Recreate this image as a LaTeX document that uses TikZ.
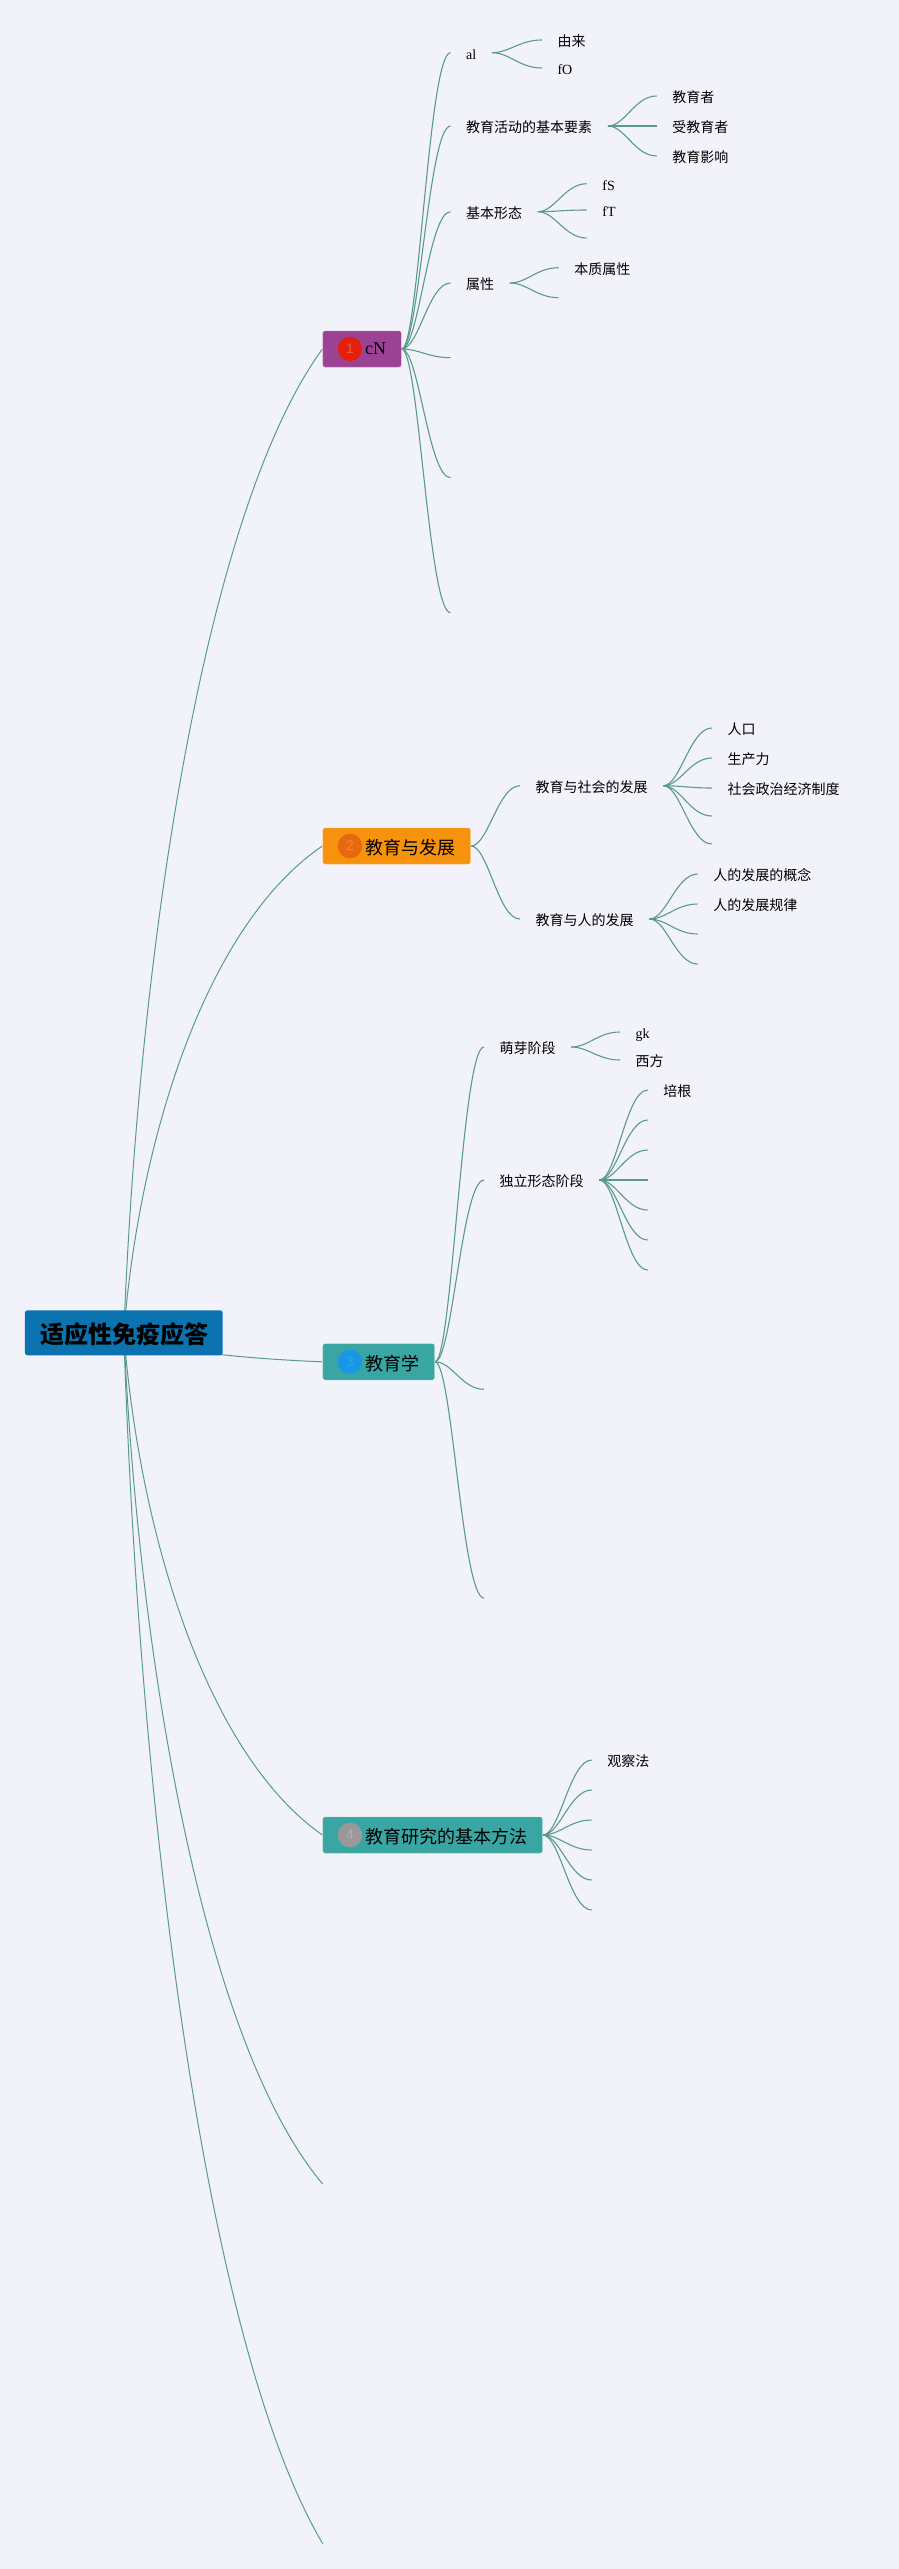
\documentclass[tikz,border=0pt]{standalone}
\usepackage{fontspec}
\setmainfont{Noto Sans CJK SC}
\newfontfamily\latf{Liberation Serif}
\newfontfamily\digf{Liberation Sans}
\usetikzlibrary{calc}
\definecolor{bgc}{HTML}{F2F3FA}
\definecolor{linec}{HTML}{5A9A8E}
\definecolor{purplec}{HTML}{9C4295}
\definecolor{orangec}{HTML}{F7920F}
\definecolor{tealc}{HTML}{3AA6A4}
\definecolor{rootc}{HTML}{0B73B0}
\definecolor{bad1}{HTML}{E4200C}
\definecolor{dig1}{HTML}{EC5A40}
\definecolor{bad2}{HTML}{E8680F}
\definecolor{dig2}{HTML}{F28A2E}
\definecolor{bad3}{HTML}{1A96E6}
\definecolor{dig3}{HTML}{2BA6EC}
\definecolor{bad4}{HTML}{999999}
\definecolor{dig4}{HTML}{B0B0B0}
\pgfdeclarelayer{bg}
\pgfsetlayers{bg,main}
\tikzset{
  leaf/.style={anchor=west,inner ysep=0pt,inner xsep=15.5pt,text=black,
    font=\fontsize{14}{14}\selectfont,text height=14pt,text depth=0.4pt},
  leaflat/.style={leaf,font=\fontsize{14}{14}\selectfont\latf},
  mainbox/.style={anchor=west,rounded corners=2.5pt,minimum height=36.5pt,inner sep=0pt,draw opacity=.35,draw=white,line width=.6pt},
  badge/.style={circle,minimum size=24.5pt,inner sep=0pt,font=\fontsize{14}{14}\selectfont\digf},
  boxtext/.style={anchor=west,inner sep=0pt,text=black,font=\fontsize{18}{18}\selectfont,text height=17pt,text depth=0.6pt},
  edgeline/.style={draw=linec,line width=1.1pt},
  rootline/.style={draw=linec,line width=1pt}
}
\newcommand{\rootedge}[2]{\draw[rootline] let \p1=(#1), \p2=(#2) in (\p1) .. controls (\x1+.076*\x2-.076*\x1,\y1+.39*\y2-.39*\y1) and (\x1+.405*\x2-.405*\x1,\y1+.835*\y2-.835*\y1) .. (\p2);}
\newcommand{\subedge}[2]{\draw[edgeline] let \p1=(#1), \p2=(#2) in (\p1) .. controls (\x1+.35*\x2-.35*\x1,\y1) and (\x1+.55*\x2-.55*\x1,\y2) .. (\p2);}
\begin{document}
\begin{tikzpicture}[x=1pt,y=-1pt]
\useasboundingbox (0,0) rectangle (899,2569);
\begin{pgfonlayer}{bg}
\fill[bgc] (0,0) rectangle (899,2569);
\end{pgfonlayer}
% root and main boxes
\node[anchor=center,fill=rootc,rounded corners=2.5pt,minimum width=197.7pt,minimum height=45pt,inner sep=0pt,text=black,text height=21.5pt,text depth=0.3pt,font=\fontsize{24}{24}\selectfont\bfseries] (root) at (123.8,1332.8) {\hspace*{1.4pt}适应性免疫应答};
\node[mainbox,fill=purplec,minimum width=78.7pt] (b1) at (322.4,349) {};
\node[mainbox,fill=orangec,minimum width=148pt] (b2) at (322.4,846) {};
\node[mainbox,fill=tealc,minimum width=112pt] (b3) at (322.4,1361.8) {};
\node[mainbox,fill=tealc,minimum width=219.8pt] (b4) at (322.4,1835) {};
\node[badge,fill=bad1,text=dig1] (c1) at (350,349) {1};
\node[badge,fill=bad2,text=dig2] (c2) at (350,846) {2};
\node[badge,fill=bad3,text=dig3] (c3) at (350,1361.8) {3};
\node[badge,fill=bad4,text=dig4] (c4) at (350,1835) {4};
\node[boxtext,font=\fontsize{18}{18}\selectfont\latf] (t1) at (365,346.5) {cN};
\node[boxtext] (t2) at (365,846) {教育与发展};
\node[boxtext] (t3) at (365.5,1361.8) {教育学};
\node[boxtext] (t4) at (365,1835) {教育研究的基本方法};
\coordinate (b5) at (322.7,2184);
\coordinate (b6) at (322.7,2543.6);
% branch 1
\node[leaflat] (a1) at (450.5,52.7) {al};
\node[leaf] (a2) at (450.5,126) {教育活动的基本要素};
\node[leaf] (a3) at (450.5,211.7) {基本形态};
\node[leaf] (a4) at (450.5,283) {属性};
\coordinate (a5) at (450.5,357.7);
\coordinate (a6) at (450.5,477.7);
\coordinate (a7) at (450.5,612.7);
\node[leaf] (a11) at (541.8,40) {由来};
\node[leaflat] (a12) at (541.8,68) {fO};
\node[leaf] (a21) at (656.7,96) {教育者};
\node[leaf] (a22) at (656.7,126) {受教育者};
\node[leaf] (a23) at (656.7,156) {教育影响};
\node[leaflat] (a31) at (586.7,183.7) {fS};
\node[leaflat] (a32) at (586.7,210) {fT};
\coordinate (a33) at (586.7,238);
\node[leaf] (a41) at (558.7,267.7) {本质属性};
\coordinate (a42) at (558.7,297.7);
% branch 2
\node[leaf] (d1) at (520,785.7) {教育与社会的发展};
\node[leaf] (d2) at (520,919) {教育与人的发展};
\node[leaf] (d11) at (711.8,728) {人口};
\node[leaf] (d12) at (711.8,758) {生产力};
\node[leaf] (d13) at (711.8,788) {社会政治经济制度};
\coordinate (d14) at (711.8,816);
\coordinate (d15) at (711.8,844);
\node[leaf] (d21) at (697.7,874) {人的发展的概念};
\node[leaf] (d22) at (697.7,904) {人的发展规律};
\coordinate (d23) at (697.7,934);
\coordinate (d24) at (697.7,964);
% branch 3
\node[leaf] (g1) at (484,1047) {萌芽阶段};
\node[leaf] (g2) at (484,1180) {独立形态阶段};
\coordinate (g3) at (484,1389.3);
\coordinate (g4) at (484,1598);
\node[leaflat] (g11) at (620,1032) {gk};
\node[leaf] (g12) at (620,1060) {西方};
\node[leaf] (g21) at (647.7,1090) {培根};
\coordinate (g22) at (647.7,1120);
\coordinate (g23) at (647.7,1150);
\coordinate (g24) at (647.7,1180);
\coordinate (g25) at (647.7,1210);
\coordinate (g26) at (647.7,1240);
\coordinate (g27) at (647.7,1270);
% branch 4
\node[leaf] (h1) at (591.7,1760) {观察法};
\coordinate (h2) at (591.7,1790);
\coordinate (h3) at (591.7,1820);
\coordinate (h4) at (591.7,1850);
\coordinate (h5) at (591.7,1880);
\coordinate (h6) at (591.7,1910);
% connectors
\begin{pgfonlayer}{bg}
\foreach \tgt in {b1.west,b2.west,b3.west,b4.west,b5,b6} {\rootedge{root.center}{\tgt}}
\foreach \tgt in {a1.west,a2.west,a3.west,a4.west,a5,a6,a7} {\subedge{b1.east}{\tgt}}
\foreach \tgt in {a11.west,a12.west} {\subedge{a1.east}{\tgt}}
\foreach \tgt in {a21.west,a22.west,a23.west} {\subedge{a2.east}{\tgt}}
\foreach \tgt in {a31.west,a32.west,a33} {\subedge{a3.east}{\tgt}}
\foreach \tgt in {a41.west,a42} {\subedge{a4.east}{\tgt}}
\foreach \tgt in {d1.west,d2.west} {\subedge{b2.east}{\tgt}}
\foreach \tgt in {d11.west,d12.west,d13.west,d14,d15} {\subedge{d1.east}{\tgt}}
\foreach \tgt in {d21.west,d22.west,d23,d24} {\subedge{d2.east}{\tgt}}
\foreach \tgt in {g1.west,g2.west,g3,g4} {\subedge{b3.east}{\tgt}}
\foreach \tgt in {g11.west,g12.west} {\subedge{g1.east}{\tgt}}
\foreach \tgt in {g21.west,g22,g23,g24,g25,g26,g27} {\subedge{g2.east}{\tgt}}
\foreach \tgt in {h1.west,h2,h3,h4,h5,h6} {\subedge{b4.east}{\tgt}}
\end{pgfonlayer}
\end{tikzpicture}
\end{document}
